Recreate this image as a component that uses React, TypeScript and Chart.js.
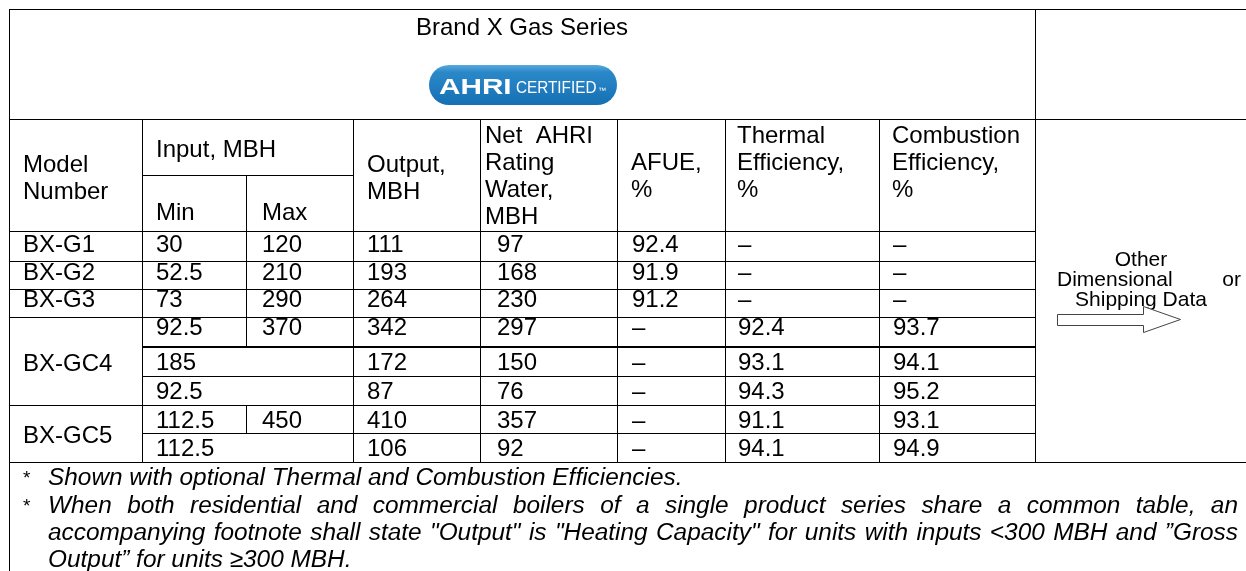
import React, { useEffect, useRef } from "react";
import { Chart, registerables } from "chart.js";

Chart.register(...registerables);

// ---------- DATA ----------
const tableTitle = "Brand X Gas Series";
const logoMain = "AHRI";
const logoSub = "CERTIFIED";

const headerLabels: string[][] = [
  ["Model", "Number"],
  ["Input, MBH"],
  ["Min"],
  ["Max"],
  ["Output,", "MBH"],
  ["Net  AHRI", "Rating", "Water,", "MBH"],
  ["AFUE,", "%"],
  ["Thermal", "Efficiency,", "%"],
  ["Combustion", "Efficiency,", "%"],
];

const modelNames = ["BX-G1", "BX-G2", "BX-G3", "BX-GC4", "BX-GC5"];
const modelRowSpans = [1, 1, 1, 3, 2];

const inputMin: number[] = [30, 52.5, 73, 92.5, 185, 92.5, 112.5, 112.5];
const inputMax: (number | null)[] = [120, 210, 290, 370, null, null, 450, null]; // null = merged with Min
const outputMBH: number[] = [111, 193, 264, 342, 172, 87, 410, 106];
const netAhri: number[] = [97, 168, 230, 297, 150, 76, 357, 92];
const afue: (number | null)[] = [92.4, 91.9, 91.2, null, null, null, null, null];
const thermalEff: (number | null)[] = [null, null, null, 92.4, 93.1, 94.3, 91.1, 94.1];
const combustionEff: (number | null)[] = [null, null, null, 93.7, 94.1, 95.2, 93.1, 94.9];

const sideNoteLines = ["Other", "Dimensional or", "Shipping Data"];

const footnoteMarks = ["*", "*"];
const footnotes: string[][] = [
  ["Shown with optional Thermal and Combustion Efficiencies."],
  [
    "When both residential and commercial boilers of a single product series share a common table, an",
    "accompanying footnote shall state \"Output\" is \"Heating Capacity\" for units with inputs <300 MBH and \u201DGross",
    "Output\u201D for units \u2265300 MBH.",
  ],
];

// ---------- LAYOUT (table units, mapped through chart scales) ----------
const W = 1246;
const H = 571;
const colEdges = [9, 142, 246, 353, 480, 617, 725, 879, 1035, 1246];
const titleTop = 9;
const titleBottom = 119;
const inputSplitY = 175;
const rowEdges = [231, 261, 289, 317, 347, 376, 405, 433, 462];
const thickRowEdges = [347];
const rowTextShift = [-3, -4, -5, -6, 0, 0, 0, 0];
const dataTextX = [23, 156, 262, 367, 497, 632, 738, 893];
const headerX = [23, 156, 156, 262, 367, 485, 631, 737, 892];
const headerFirstBaseline = [172, 157, 220, 220, 172, 143, 170, 143, 143];
const LINE = 27;
const FONT = '"Liberation Sans", Arial, Helvetica, sans-serif';
const FS = 24;

const fmt = (v: number | null) => (v === null ? "\u2013" : String(v));

const tablePlugin = {
  id: "tableDraw",
  beforeDraw(chart: any) {
    const ctx: CanvasRenderingContext2D = chart.ctx;
    const xs = chart.scales.x;
    const ys = chart.scales.y;
    const X = (v: number) => xs.getPixelForValue(v);
    const Y = (v: number) => ys.getPixelForValue(v);

    ctx.save();
    ctx.fillStyle = "#ffffff";
    ctx.fillRect(0, 0, chart.width, chart.height);

    // ---- grid lines ----
    ctx.fillStyle = "#000000";
    const hLine = (y: number, x1: number, x2: number, lw = 1) => {
      ctx.fillRect(Math.round(X(x1)), Math.round(Y(y)) - Math.floor(lw / 2), Math.round(X(x2) - X(x1)) + 1, lw);
    };
    const vLine = (x: number, y1: number, y2: number, lw = 1) => {
      ctx.fillRect(Math.round(X(x)), Math.round(Y(y1)), lw, Math.round(Y(y2) - Y(y1)) + 1);
    };
    const c = colEdges;
    const last = rowEdges[rowEdges.length - 1];
    hLine(titleTop, c[0], c[9]);
    hLine(titleBottom, c[0], c[9]);
    hLine(inputSplitY, c[1], c[3]);
    hLine(rowEdges[0], c[0], c[8]);
    const modelBoundary = new Set<number>();
    let acc = 0;
    modelRowSpans.forEach((s) => {
      acc += s;
      modelBoundary.add(acc);
    });
    for (let i = 1; i < rowEdges.length - 1; i++) {
      const thick = thickRowEdges.includes(rowEdges[i]) ? 2 : 1;
      hLine(rowEdges[i], modelBoundary.has(i) ? c[0] : c[1], c[8], thick);
    }
    hLine(last, c[0], c[9]);

    vLine(c[0], titleTop, H);
    vLine(c[8], titleTop, last);
    [1, 3, 4, 5, 6, 7].forEach((k) => vLine(c[k], titleBottom, last));
    vLine(c[2], inputSplitY, rowEdges[0]);
    inputMax.forEach((v, i) => {
      if (v !== null) vLine(c[2], rowEdges[i], rowEdges[i + 1]);
    });

    // ---- text ----
    ctx.fillStyle = "#000000";
    ctx.textBaseline = "alphabetic";
    const capH = FS * 0.716;

    // title
    ctx.textAlign = "center";
    ctx.font = `${FS}px ${FONT}`;
    ctx.fillText(tableTitle, X((c[0] + c[8]) / 2), Y(35));

    // logo
    const lx1 = X(429), lx2 = X(617), ly1 = Y(65), ly2 = Y(105);
    const r = (ly2 - ly1) / 2;
    const grad = ctx.createLinearGradient(0, ly1, 0, ly2);
    grad.addColorStop(0, "#5aa9de");
    grad.addColorStop(0.18, "#2a88c9");
    grad.addColorStop(1, "#1670b3");
    ctx.fillStyle = grad;
    ctx.beginPath();
    ctx.moveTo(lx1 + r, ly1);
    ctx.lineTo(lx2 - r, ly1);
    ctx.arc(lx2 - r, ly1 + r, r, -Math.PI / 2, Math.PI / 2);
    ctx.lineTo(lx1 + r, ly2);
    ctx.arc(lx1 + r, ly1 + r, r, Math.PI / 2, (3 * Math.PI) / 2);
    ctx.closePath();
    ctx.fill();
    ctx.fillStyle = "#ffffff";
    ctx.textAlign = "left";
    ctx.save();
    ctx.translate(X(439), Y(94));
    ctx.scale(1.35, 1);
    ctx.font = `900 22px ${FONT}`;
    ctx.fillText(logoMain, 0, 0);
    ctx.restore();
    ctx.save();
    ctx.translate(X(516), Y(93));
    ctx.scale(0.9, 1);
    ctx.font = `17px ${FONT}`;
    ctx.fillText(logoSub, 0, 0);
    ctx.restore();
    ctx.font = `8px ${FONT}`;
    ctx.fillText("\u2122", X(598), Y(93));

    // headers
    ctx.fillStyle = "#000000";
    ctx.font = `${FS}px ${FONT}`;
    ctx.textAlign = "left";
    headerLabels.forEach((lines, k) => {
      lines.forEach((ln, j) => {
        ctx.fillText(ln, X(headerX[k]), Y(headerFirstBaseline[k] + j * LINE));
      });
    });

    // data rows
    const cols: (number | null)[][] = [inputMin, inputMax, outputMBH, netAhri, afue, thermalEff, combustionEff];
    for (let i = 0; i < rowEdges.length - 1; i++) {
      const mid = (rowEdges[i] + rowEdges[i + 1]) / 2 + rowTextShift[i];
      const base = Y(mid) + capH / 2;
      cols.forEach((arr, k) => {
        if (k === 1 && arr[i] === null) return;
        ctx.fillText(fmt(arr[i]), X(dataTextX[k + 1]), base);
      });
    }
    // model names (merged cells)
    let start = 0;
    modelNames.forEach((name, m) => {
      const end = start + modelRowSpans[m];
      let mid: number;
      if (modelRowSpans[m] === 1) mid = (rowEdges[start] + rowEdges[end]) / 2 + rowTextShift[start];
      else mid = (rowEdges[start] + rowEdges[end]) / 2 + 1;
      ctx.fillText(name, X(dataTextX[0]), Y(mid) + capH / 2);
      start = end;
    });

    const justify = (text: string, x1: number, x2: number, y: number) => {
      const words = text.split(" ");
      const widths = words.map((w) => ctx.measureText(w).width);
      const total = widths.reduce((a, b) => a + b, 0);
      const gap = words.length > 1 ? (X(x2) - X(x1) - total) / (words.length - 1) : 0;
      let px = X(x1);
      ctx.textAlign = "left";
      words.forEach((w, i) => {
        ctx.fillText(w, px, Y(y));
        px += widths[i] + gap;
      });
    };

    // side note
    ctx.font = `21px ${FONT}`;
    ctx.textAlign = "center";
    const sideCx = 1141;
    ctx.fillText(sideNoteLines[0], X(sideCx), Y(266));
    justify(sideNoteLines[1], 1057, 1241, 286);
    ctx.textAlign = "center";
    ctx.fillText(sideNoteLines[2], X(sideCx), Y(306));

    // arrow
    ctx.beginPath();
    const ap = [
      [1057, 314],
      [1143, 314],
      [1143, 306],
      [1180, 319],
      [1143, 332],
      [1143, 325],
      [1057, 325],
    ];
    ap.forEach(([ax, ay], i) => (i === 0 ? ctx.moveTo(X(ax) + 0.5, Y(ay) + 0.5) : ctx.lineTo(X(ax) + 0.5, Y(ay) + 0.5)));
    ctx.closePath();
    ctx.fillStyle = "#ffffff";
    ctx.fill();
    ctx.strokeStyle = "#444444";
    ctx.lineWidth = 1;
    ctx.stroke();

    // footnotes
    ctx.fillStyle = "#000000";
    const fnBase = [485, 513];
    footnotes.forEach((lines, f) => {
      ctx.textAlign = "left";
      ctx.font = `${FS - 5}px ${FONT}`;
      ctx.fillText(footnoteMarks[f], X(23), Y(fnBase[f] - 1));
      ctx.font = `italic 24.4px ${FONT}`;
      lines.forEach((ln, j) => {
        const y = fnBase[f] + j * LINE;
        if (j < lines.length - 1) justify(ln, 48, 1238, y);
        else {
          ctx.textAlign = "left";
          ctx.fillText(ln, X(48), Y(y));
        }
      });
    });

    ctx.restore();
  },
};

export default function App() {
  const ref = useRef<HTMLCanvasElement | null>(null);
  useEffect(() => {
    if (!ref.current) return;
    const chart = new Chart(ref.current, {
      type: "scatter",
      data: { datasets: [] },
      options: {
        responsive: false,
        animation: false,
        events: [],
        layout: { padding: 0 },
        plugins: { legend: { display: false }, tooltip: { enabled: false }, title: { display: false } },
        scales: {
          x: { type: "linear", min: 0, max: W, display: false },
          y: { type: "linear", min: 0, max: H, reverse: true, display: false },
        },
      },
      plugins: [tablePlugin],
    });
    return () => chart.destroy();
  }, []);
  return (
    <div style={{ position: "fixed", left: 0, top: 0, width: W, height: H, background: "#fff" }}>
      <canvas ref={ref} width={W} height={H} style={{ display: "block" }} />
    </div>
  );
}
